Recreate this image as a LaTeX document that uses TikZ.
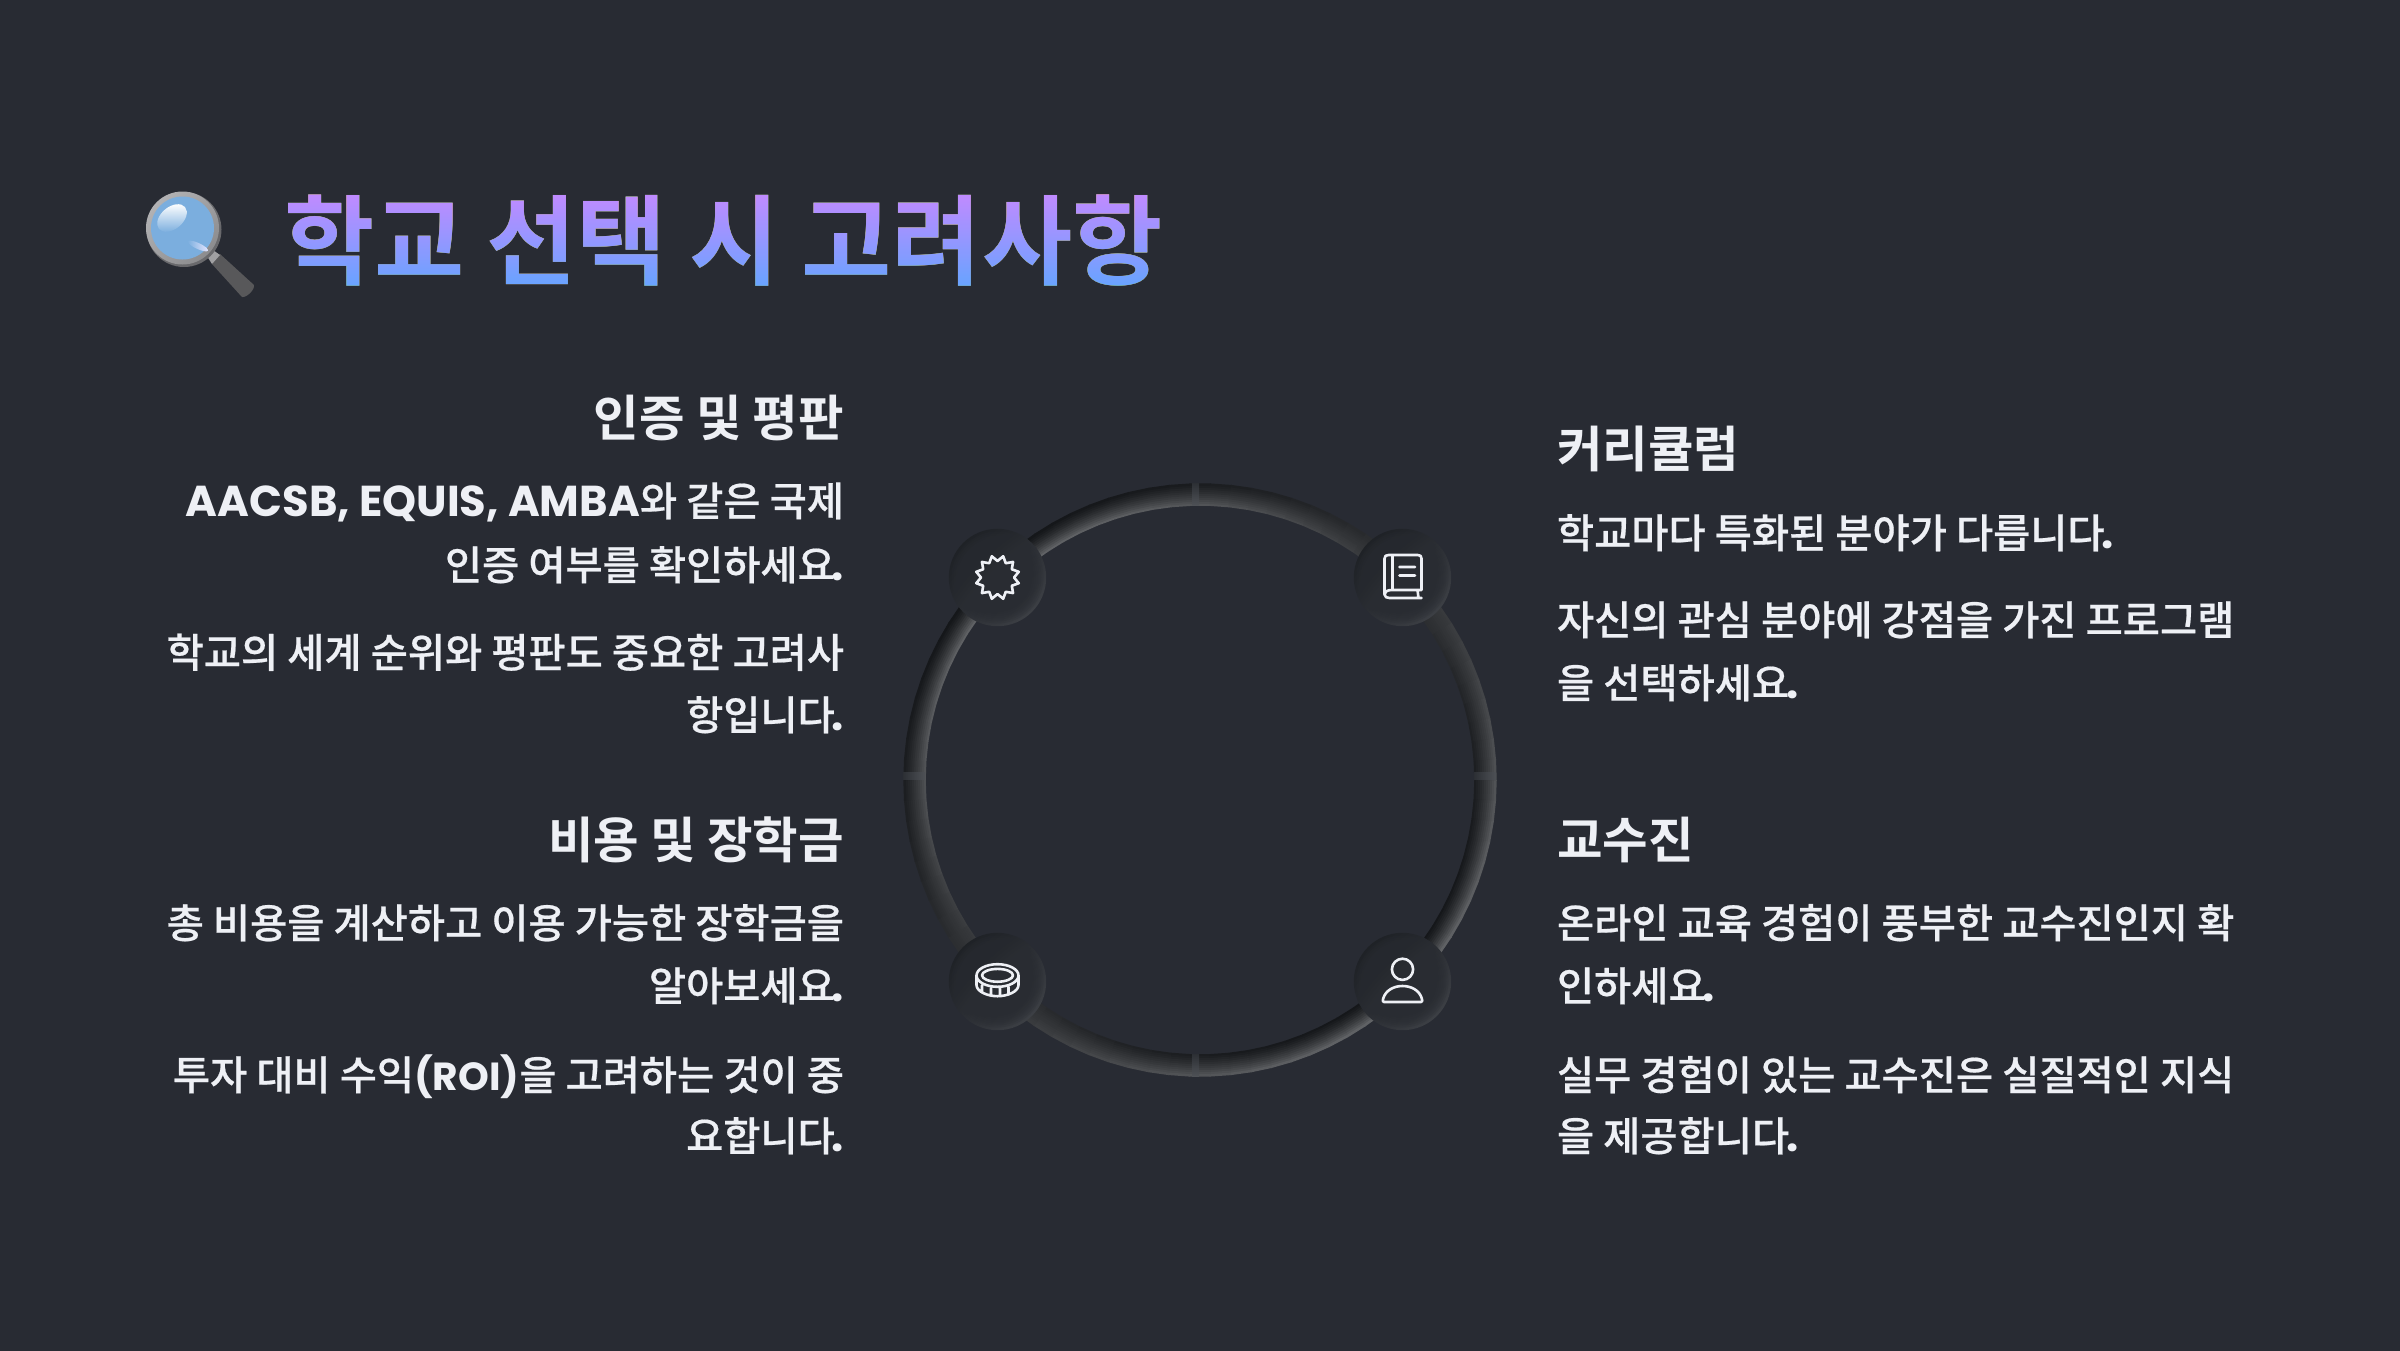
\documentclass[tikz,border=0pt]{standalone}
\usepackage{fontspec}
\usetikzlibrary{calc,shadings}
\setmainfont{Noto Sans CJK KR}[UprightFont=* Medium,BoldFont=* Bold,UprightFeatures={FakeBold=0.5}]
\newfontfamily\latinf{Poppins}[UprightFont=* Bold,BoldFont=* Bold,Scale=1.07]
\newfontfamily\latinp{Poppins}[UprightFont=* Bold,BoldFont=* Bold,Scale=0.97]
\newcommand\la[1]{{\latinf #1}}
\newcommand\pe{\kern-3pt{\latinf .}}
\definecolor{bgc}{RGB}{40,43,51}
\definecolor{txtc}{RGB}{238,240,245}
\definecolor{gtop}{RGB}{200,136,255}
\definecolor{gbot}{RGB}{98,165,255}
\definecolor{discm}{RGB}{41,44,50}
\definecolor{discd}{RGB}{26,29,33}
\definecolor{discl}{RGB}{68,71,76}
\definecolor{lensc}{RGB}{123,174,222}
\tikzset{
  x=1pt,y=-1pt,
  hdr/.style={inner sep=0pt,outer sep=0pt,text=txtc,font=\fontsize{49.5}{56}\selectfont\bfseries},
  bodytxt/.style={inner sep=0pt,outer sep=0pt,text=txtc,font=\fontsize{40.4}{48}\selectfont},
  rside/.style={anchor=base east},
  lside/.style={anchor=base west},
  icon/.style={draw=txtc,line width=2.6pt,line join=round,line cap=round,fill=none},
}
\begin{document}
\begin{tikzpicture}
\useasboundingbox (0,0) rectangle (2400,1350);
\fill[bgc] (-6,-6) rectangle (2406,1356);

% ---- title
\node[inner sep=0pt,anchor=base west,text=white,font=\fontsize{98}{110}\selectfont\bfseries] (title) at (284,277) {학교 선택 시 고려사항};
\begin{scope}[blend mode=darken]
\shade[top color=gtop,bottom color=gbot] (275,186) rectangle (1170,292);
\end{scope}

% ---- magnifier
\fill[color={rgb,255:red,88;green,88;blue,90}] (220,254) -- (212,264) -- (242,297) .. controls (246,298) and (255,290) .. (254,285) -- cycle;
\fill[color={rgb,255:red,160;green,160;blue,162}] (213,250) -- (207,256) -- (212,264) -- (220,255) -- cycle;
\fill[color={rgb,255:red,105;green,105;blue,108}] (184,229.5) circle[radius=37.5pt];
\shade[top color={rgb,255:red,178;green,178;blue,180},bottom color={rgb,255:red,140;green,140;blue,142},shading angle=45] (182.5,228) circle[radius=36.5pt];
\fill[lensc] (182.5,228) circle[radius=31.5pt];
\shade[top color=white,bottom color=lensc,rotate around={40:(172,218)}] (172,218) circle[x radius=17pt,y radius=11pt];
\shade[left color=lensc,right color=white!90!blue,rotate around={-25:(198,246)}] (198,246) circle[x radius=11pt,y radius=3pt];

% ---- ring
\foreach \a in {0,4,...,356}{
  \foreach \t in {-1,-0.8,...,1.01}{
    \pgfmathsetmacro\rr{285.5+10*\t}
    \pgfmathsetmacro\cc{-(cos(\a)+sin(\a))/1.41421}
    \pgfmathsetmacro\ss{-\t*\cc}
    \pgfmathtruncatemacro\gg{50+38*\ss+9*\ss*\ss}
    \pgfmathtruncatemacro\gb{\gg+2}
    \pgfmathtruncatemacro\gc{\gg+5}
    \definecolor{rc}{RGB}{\gg,\gb,\gc}
    \pgfmathsetmacro\bb{\a+4.15}
    \draw[rc,line width=2.5pt] ({1200+\rr*cos(\a)},{780+\rr*sin(\a)}) -- ({1200+\rr*cos(\bb)},{780+\rr*sin(\bb)});
  }
}
% ---- ticks
\definecolor{tl}{RGB}{78,81,86}
\definecolor{td}{RGB}{44,47,52}
\shade[top color=td,bottom color=tl] (1192,483) rectangle (1199,505);
\shade[top color=td,bottom color=tl] (1192,1054) rectangle (1199,1076);
\shade[left color=td,right color=tl] (903,772) rectangle (925,779);
\shade[left color=td,right color=tl] (1474,772) rectangle (1496,779);

% ---- discs
\foreach \nm/\cx/\cy in {dA/997.5/577.5,dB/1402.5/577.5,dC/997.5/981.5,dD/1402.5/981.5}{
  \coordinate (\nm) at (\cx,\cy);
  \shade[upper left=discd,lower right=discl,upper right=discm,lower left=discm] (\nm) circle[radius=48.7pt];
  \foreach \q in {46,44,...,28}{
    \fill[discm,opacity=0.24] (\nm) circle[radius=\q pt];
  }
}

% ---- seal icon
\draw[icon,shift={(dA)}]
  ({22*cos(15)},{22*sin(15)})
  \foreach \k in {0,...,11}{
    -- ({16.5*cos(30+30*\k)},{16.5*sin(30+30*\k)})
    -- ({22*cos(45+30*\k)},{22*sin(45+30*\k)})
  } -- cycle;

% ---- book icon
\draw[icon,shift={(1402.5,577.5)}]
  (-14,-22.5) -- (15,-22.5) .. controls (18,-22.5) and (19,-21.5) .. (19,-19) -- (19,12.5) -- (-11,12.5) .. controls (-15.5,12.5) and (-18,14.5) .. (-18,17)
  (-18,17) .. controls (-18,19.5) and (-15.5,20.5) .. (-13,20.5) -- (19,20.5) (15,12.5) -- (16,20.5)
  (-18,17) -- (-18,-19) .. controls (-18,-21.5) and (-16.5,-22.5) .. (-14,-22.5)
  (-10,-22.5) -- (-10,12.5)
  (-3,-10.5) -- (12.5,-10.5)
  (-3,-2) -- (12.5,-2);

% ---- coin icon
\draw[icon,shift={(997.5,981.5)}]
  (0,-6) circle[x radius=21pt,y radius=11.3pt]
  (0,-6.2) circle[x radius=15.5pt,y radius=6.4pt]
  (-21,-6) -- (-21,3.5) .. controls (-21,10) and (-10,14.7) .. (0,14.7) .. controls (10,14.7) and (21,10) .. (21,3.5) -- (21,-6)
  (-15.5,4) -- (-15.5,11) (-6.5,7) -- (-6.5,14.3) (2.5,7) -- (2.5,14.5) (11,5.5) -- (11,12.5);

% ---- person icon
\draw[icon,shift={(1402.5,981.5)}]
  (0,-12.2) circle[radius=10.6pt]
  (-18.5,20.5) -- (18.5,20.5) .. controls (20,20.5) and (20,19) .. (19.3,17) .. controls (17,9) and (9,4.5) .. (0,4.5) .. controls (-9,4.5) and (-17,9) .. (-19.3,17) .. controls (-20,19) and (-20,20.5) .. (-18.5,20.5) -- cycle;

% ---- left texts
\node[hdr,rside] (h1) at (844,436) {인증 및 평판};
\node[bodytxt,rside] (t1a) at (844,516) {\la{AACSB, EQUIS, AMBA}와 같은 국제};
\node[bodytxt,rside] (t1b) at (844,580) {인증 여부를 확인하세요\pe};
\node[bodytxt,rside] (t1c) at (844,667.5) {학교의 세계 순위와 평판도 중요한 고려사};
\node[bodytxt,rside] (t1d) at (844,730) {항입니다\pe};
\node[hdr,rside] (h2) at (844,858) {비용 및 장학금};
\node[bodytxt,rside] (t2a) at (844,938) {총 비용을 계산하고 이용 가능한 장학금을};
\node[bodytxt,rside] (t2b) at (844,1001) {알아보세요\pe};
\node[bodytxt,rside] (t2c) at (844,1090) {투자 대비 수익{\latinp (ROI)}을 고려하는 것이 중};
\node[bodytxt,rside] (t2d) at (844,1151) {요합니다\pe};

% ---- right texts
\node[hdr,lside] (h3) at (1557,467) {커리큘럼};
\node[bodytxt,lside] (t3a) at (1557,548) {학교마다 특화된 분야가 다릅니다\pe};
\node[bodytxt,lside] (t3b) at (1557,635) {자신의 관심 분야에 강점을 가진 프로그램};
\node[bodytxt,lside] (t3c) at (1557,698) {을 선택하세요\pe};
\node[hdr,lside] (h4) at (1557,858) {교수진};
\node[bodytxt,lside] (t4a) at (1557,938) {온라인 교육 경험이 풍부한 교수진인지 확};
\node[bodytxt,lside] (t4b) at (1557,1001) {인하세요\pe};
\node[bodytxt,lside] (t4c) at (1557,1090) {실무 경험이 있는 교수진은 실질적인 지식};
\node[bodytxt,lside] (t4d) at (1557,1151) {을 제공합니다\pe};
\end{tikzpicture}
\end{document}
